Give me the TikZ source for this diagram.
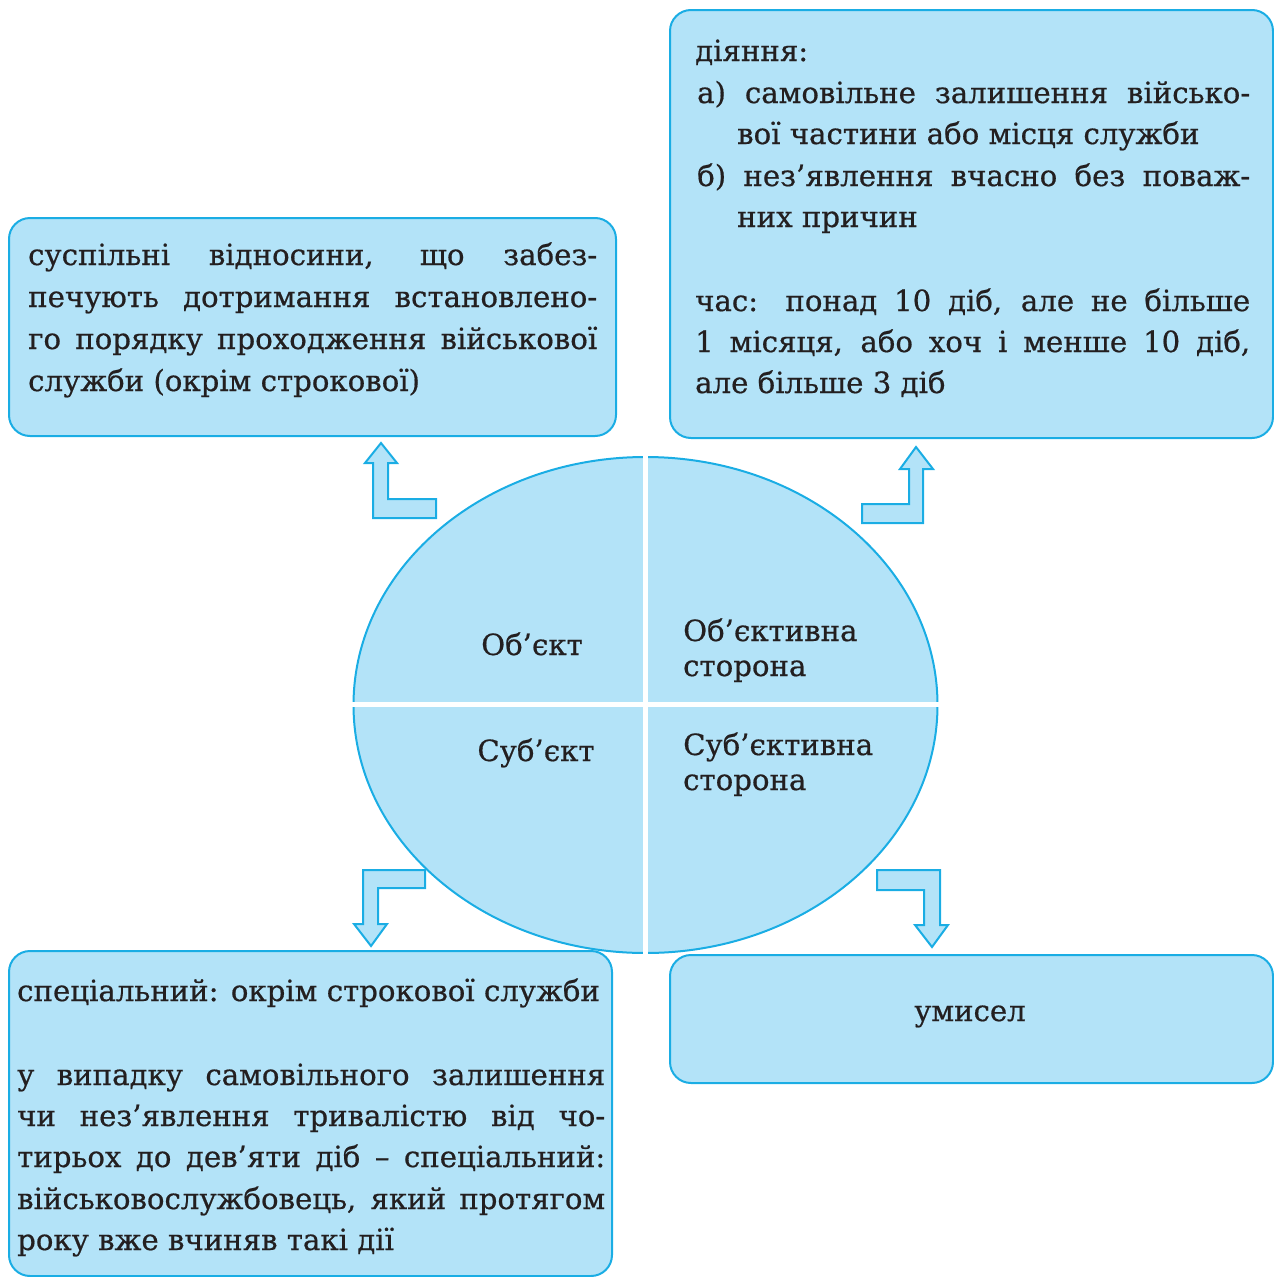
\documentclass[tikz,border=0pt]{standalone}
\usepackage{fontspec}
\setmainfont{DejaVu Serif}[FakeBold=0.6]
\definecolor{fillb}{HTML}{B3E3F8}
\definecolor{lineb}{HTML}{1AADE4}
\definecolor{txt}{HTML}{231F20}
\newcommand{\jline}[2]{\makebox[#1pt][s]{#2}}
\begin{document}
\begin{tikzpicture}[x=1pt,y=-1pt,
  box/.style={draw=lineb,fill=fillb,line width=2pt,rounded corners=21pt},
  blockarrow/.style={draw=lineb,fill=fillb,line width=2pt,line join=miter},
  tl/.style={anchor=base west,inner sep=0pt,text=txt,font=\fontsize{29.2}{33}\selectfont},
  tc/.style={anchor=base,inner sep=0pt,text=txt,font=\fontsize{29.2}{33}\selectfont}]
\useasboundingbox (0,0) rectangle (1274,1277);
\clip (0,0) rectangle (1274,1277);
% boxes
\draw[box] (9,218) rectangle (616,436);
\draw[box] (670,10) rectangle (1273,438);
\draw[box] (9,951) rectangle (612,1276);
\draw[box] (670,955) rectangle (1273,1083);
% ellipse
\draw[draw=lineb,fill=fillb,line width=2pt] (645.5,705) ellipse [x radius=292, y radius=248];
\draw[white,line width=5pt] (645.5,450) -- (645.5,960);
\draw[white,line width=5pt] (345,704.5) -- (946,704.5);
% arrows
\draw[blockarrow] (381,443) -- (397,463) -- (388,463) -- (388,499) -- (436,499) -- (436,518) -- (373,518) -- (373,463) -- (365,463) -- cycle;
\draw[blockarrow] (916,447) -- (933,469) -- (923,469) -- (923,523) -- (862,523) -- (862,504) -- (909,504) -- (909,469) -- (900,469) -- cycle;
\draw[blockarrow] (363,870) -- (425,870) -- (425,888) -- (378,888) -- (378,924) -- (387,924) -- (371,946) -- (354,924) -- (363,924) -- cycle;
\draw[blockarrow] (877,870) -- (940,870) -- (940,925) -- (948,925) -- (932,947) -- (915,925) -- (924,925) -- (924,890) -- (877,890) -- cycle;
% top-left text
\node[tl] (a1) at (28,265) {\jline{569}{суспільні відносини, що забез-}};
\node[tl] (a2) at (28,307) {\jline{569}{печують дотримання встановлено-}};
\node[tl] (a3) at (28,349) {\jline{569}{го порядку проходження військової}};
\node[tl] (a4) at (28,391) {служби (окрім строкової)};
% top-right text
\node[tl] (b1) at (695,61) {діяння:};
\node[tl] (b2) at (697,103) {\jline{553}{а) самовільне залишення військо-}};
\node[tl] (b3) at (737,144) {вої частини або місця служби};
\node[tl] (b4) at (697,186) {\jline{553}{б) нез’явлення вчасно без поваж-}};
\node[tl] (b5) at (737,227) {них причин};
\node[tl] (b6) at (695,311) {\jline{555}{час: понад 10 діб, але не більше}};
\node[tl] (b7) at (695,352) {\jline{555}{1 місяця, або хоч і менше 10 діб,}};
\node[tl] (b8) at (695,393) {але більше 3 діб};
% bottom-left text
\node[tl] (c1) at (17,1001) {спеціальний: окрім строкової служби};
\node[tl] (c2) at (17,1085) {\jline{588}{у випадку самовільного залишення}};
\node[tl] (c3) at (17,1126) {\jline{588}{чи нез’явлення тривалістю від чо-}};
\node[tl] (c4) at (17,1167) {\jline{588}{тирьох до дев’яти діб – спеціальний:}};
\node[tl] (c5) at (17,1209) {\jline{588}{військовослужбовець, який протягом}};
\node[tl] (c6) at (17,1250) {року вже вчиняв такі дії};
% bottom-right
\node[tc] (d1) at (970,1021) {умисел};
% ellipse labels
\node[tc] (e1) at (532,655) {Об’єкт};
\node[tl] (e2) at (683,641) {Об’єктивна};
\node[tl] (e3) at (683,676) {сторона};
\node[tc] (e4) at (536,761) {Суб’єкт};
\node[tl] (e5) at (683,755) {Суб’єктивна};
\node[tl] (e6) at (683,790) {сторона};
\end{tikzpicture}
\end{document}
